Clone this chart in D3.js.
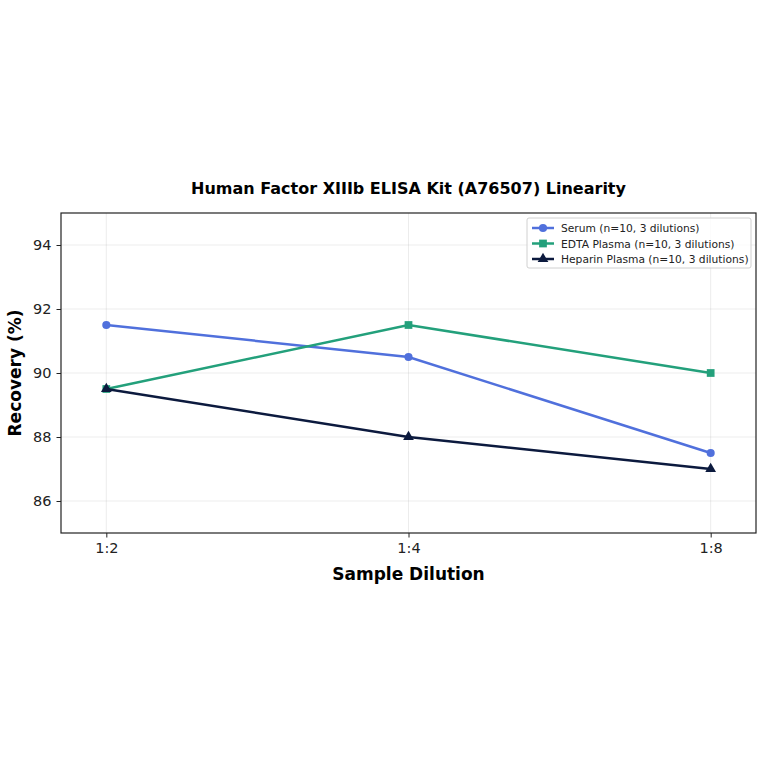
<!DOCTYPE html>
<html>
<head>
<meta charset="utf-8">
<script src="https://cdn.jsdelivr.net/npm/d3@7"></script>
<style>
  body { margin: 0; background: #fff; }
  svg { font-family: "DejaVu Sans", sans-serif; }
</style>
</head>
<body>
<div id="chart"></div>
<script>
// data
const dilutions = ['1:2', '1:4', '1:8'];
const serum = [91.5, 90.5, 87.5];
const edta = [89.5, 91.5, 90.0];
const heparin = [89.5, 88.0, 87.0];
const seriesNames = ['Serum (n=10, 3 dilutions)', 'EDTA Plasma (n=10, 3 dilutions)', 'Heparin Plasma (n=10, 3 dilutions)'];
const yTicks = [86, 88, 90, 92, 94];

const W = 764, H = 764;
const margin = { top: 213, right: 8, bottom: 231, left: 61 };

const svg = d3.select('#chart').append('svg')
    .attr('width', W)
    .attr('height', H);

const x = d3.scalePoint()
    .domain(dilutions)
    .range([margin.left, W - margin.right])
    .padding(0.15);

const y = d3.scaleLinear()
    .domain([85, 95])
    .range([H - margin.bottom, margin.top]);

// grid
const grid = svg.append('g');
grid.selectAll('line.gx')
    .data(dilutions)
    .enter().append('line')
    .attr('x1', d => x(d)).attr('x2', d => x(d))
    .attr('y1', margin.top).attr('y2', H - margin.bottom)
    .attr('stroke', '#b0b0b0').attr('stroke-opacity', 0.3).attr('stroke-width', 0.8);
grid.selectAll('line.gy')
    .data(yTicks)
    .enter().append('line')
    .attr('x1', margin.left).attr('x2', W - margin.right)
    .attr('y1', d => y(d)).attr('y2', d => y(d))
    .attr('stroke', '#b0b0b0').attr('stroke-opacity', 0.3).attr('stroke-width', 0.8);

// axes
const xAxis = svg.append('g')
    .attr('transform', `translate(0,${H - margin.bottom})`)
    .call(d3.axisBottom(x).tickSize(4.5).tickPadding(5));
const yAxis = svg.append('g')
    .attr('transform', `translate(${margin.left},0)`)
    .call(d3.axisLeft(y).tickValues(yTicks).tickSize(4.5).tickPadding(5));
[xAxis, yAxis].forEach(a => {
    a.select('.domain').remove();
    a.selectAll('text').attr('font-size', 14.5).attr('fill', '#222').attr('font-family', '"DejaVu Sans", sans-serif');
    a.selectAll('line').attr('stroke', '#222').attr('stroke-width', 1);
});

// frame
svg.append('rect')
    .attr('x', margin.left).attr('y', margin.top)
    .attr('width', W - margin.left - margin.right)
    .attr('height', H - margin.top - margin.bottom)
    .attr('fill', 'none').attr('stroke', '#222').attr('stroke-width', 1.2);

const series = [
    { name: seriesNames[0], values: serum, color: '#5070dc', marker: d3.symbolCircle, size: 52 },
    { name: seriesNames[1], values: edta, color: '#23a07b', marker: d3.symbolSquare, size: 60 },
    { name: seriesNames[2], values: heparin, color: '#0c1a3e', marker: d3.symbolTriangle, size: 50 }
];

const line = d3.line()
    .x((d, i) => x(dilutions[i]))
    .y(d => y(d));

series.forEach(s => {
    svg.append('path')
        .datum(s.values)
        .attr('d', line)
        .attr('fill', 'none')
        .attr('stroke', s.color)
        .attr('stroke-width', 2.5);
    svg.selectAll(null)
        .data(s.values)
        .enter().append('path')
        .attr('d', d3.symbol().type(s.marker).size(s.size))
        .attr('transform', (d, i) => `translate(${x(dilutions[i])},${y(d)})`)
        .attr('fill', s.color);
});

// title and axis labels
svg.append('text')
    .attr('x', (margin.left + W - margin.right) / 2).attr('y', 194)
    .attr('text-anchor', 'middle')
    .attr('font-size', 16).attr('font-weight', 'bold')
    .text('Human Factor XIIIb ELISA Kit (A76507) Linearity');

svg.append('text')
    .attr('x', (margin.left + W - margin.right) / 2).attr('y', 580)
    .attr('text-anchor', 'middle')
    .attr('font-size', 17).attr('font-weight', 'bold')
    .text('Sample Dilution');

svg.append('text')
    .attr('transform', `translate(21,${(margin.top + H - margin.bottom) / 2}) rotate(-90)`)
    .attr('text-anchor', 'middle')
    .attr('font-size', 17).attr('font-weight', 'bold')
    .text('Recovery (%)');

// legend
const lg = svg.append('g').attr('transform', 'translate(527,218)');
lg.append('rect')
    .attr('width', 224).attr('height', 50).attr('rx', 2)
    .attr('fill', '#fff').attr('fill-opacity', 0.8)
    .attr('stroke', '#d0d0d0').attr('stroke-width', 1);
series.forEach((s, i) => {
    const row = lg.append('g').attr('transform', `translate(0,${10 + i * 15.5})`);
    row.append('line')
        .attr('x1', 5).attr('x2', 27)
        .attr('stroke', s.color).attr('stroke-width', 2.5);
    row.append('path')
        .attr('d', d3.symbol().type(s.marker).size(s.size))
        .attr('transform', 'translate(16,0)')
        .attr('fill', s.color);
    row.append('text')
        .attr('x', 34).attr('y', 4)
        .attr('font-size', 10.7).attr('fill', '#222')
        .text(s.name);
});
</script>
</body>
</html>
